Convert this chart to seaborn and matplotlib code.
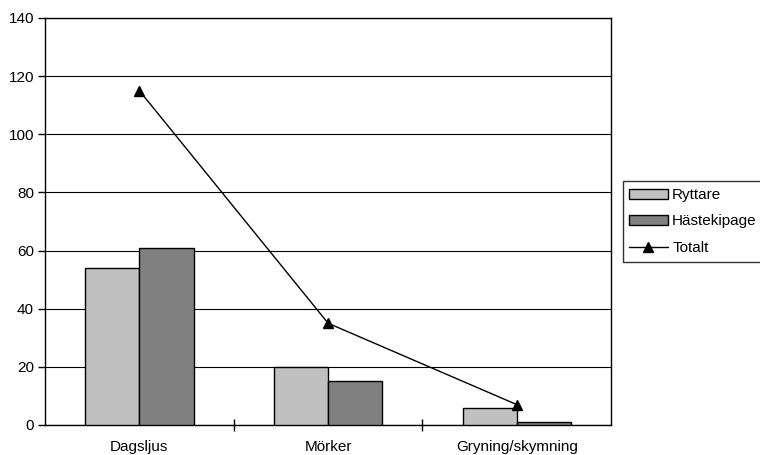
import matplotlib.pyplot as plt
import seaborn as sns
import pandas as pd

categories = ["Dagsljus", "Mörker", "Gryning/skymning"]
ryttare = [54, 20, 6]
hastekipage = [61, 15, 1]
totalt = [115, 35, 7]

df = pd.DataFrame({
    "kategori": categories * 2,
    "serie": ["Ryttare"] * 3 + ["Hästekipage"] * 3,
    "antal": ryttare + hastekipage,
})

sns.set_style("white")
plt.rcParams["font.family"] = ["Liberation Sans", "DejaVu Sans"]
plt.rcParams["text.color"] = "black"
plt.rcParams["xtick.color"] = "black"
plt.rcParams["ytick.color"] = "black"

fig = plt.figure(figsize=(7.6, 4.55), dpi=100)
ax = fig.add_axes([0.0592, 0.066, 0.745, 0.8945])

sns.barplot(data=df, x="kategori", y="antal", hue="serie",
            palette={"Ryttare": "#c0c0c0", "Hästekipage": "#808080"},
            width=0.575, edgecolor="black", linewidth=1, ax=ax, zorder=3)
ax.plot(range(len(categories)), totalt, color="black", marker="^",
        markersize=7, linewidth=1, label="Totalt", zorder=4)

ax.set_ylim(0, 140)
ax.set_xlim(-0.5, 2.5)
ax.set_yticks(range(0, 141, 20))
ax.yaxis.grid(True, color="black", linewidth=0.8)
ax.set_axisbelow(True)
ax.set_xlabel("")
ax.set_ylabel("")

for s in ax.spines.values():
    s.set_visible(True)
    s.set_color("black")
    s.set_linewidth(1)

ax.tick_params(axis="y", direction="out", length=5, width=1,
               labelsize=11, left=True, pad=3)
ax.tick_params(axis="x", which="major", length=0, labelsize=11, pad=11)
ax.set_xticks([0.5, 1.5], minor=True)
ax.tick_params(axis="x", which="minor", direction="inout", length=8,
               width=1, bottom=True)

handles, labels = ax.get_legend_handles_labels()
leg = ax.legend(handles, labels, loc="center left", bbox_to_anchor=(1.02, 0.5),
                frameon=True, fancybox=False, edgecolor="black", fontsize=11,
                handlelength=2.5, handleheight=0.6, borderpad=0.45,
                labelspacing=0.8, handletextpad=0.3, borderaxespad=0)
leg.get_frame().set_linewidth(1)

fig.savefig("out.png", dpi=100)
